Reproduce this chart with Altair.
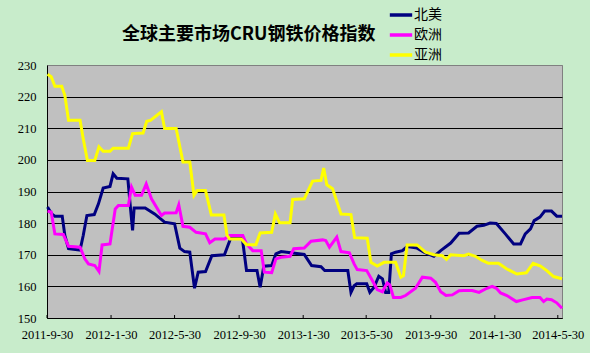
import altair as alt
import pandas as pd

START = "2011-09-30"

series_names = ["北美", "欧洲", "亚洲"]
series_colors = ["#000080", "#FF00FF", "#FFFF00"]

# days after 2011-09-30, and index values
na_days = [1, 9, 15, 29, 34, 41, 63, 69, 76, 90, 98, 107, 120, 126, 133, 154, 158, 163, 166, 187,
           205, 224, 243, 253, 262, 272, 281, 288, 302, 314, 338, 350, 372, 380, 400, 406, 413, 428,
           436, 446, 490, 504, 522, 529, 573, 579, 585, 590, 609, 615, 623, 632, 639, 645, 651, 656,
           664, 677, 686, 705, 718, 737, 750, 769, 785, 803, 819, 832, 844, 856, 873, 889, 902, 911,
           921, 928, 939, 948, 961, 971, 981]
na_vals = [185.1, 182.9, 182.2, 182.2, 176.1, 171.9, 171.5, 176.1, 182.4, 182.7, 186.1, 191.1, 191.6,
           195.6, 194.2, 194.0, 186.6, 177.7, 184.8, 184.8, 182.9, 180.3, 179.8, 172.1, 171.0, 170.8,
           159.4, 164.5, 164.7, 169.7, 170.0, 175.3, 175.3, 165.0, 165.0, 159.7, 166.4, 166.6, 170.3,
           171.0, 170.1, 166.6, 166.2, 165.0, 165.0, 158.1, 160.2, 160.8, 160.8, 158.1, 159.7, 163.2,
           162.4, 158.1, 158.1, 170.3, 170.8, 171.3, 172.6, 172.1, 170.8, 169.5, 171.3, 173.7, 176.8,
           176.9, 179.0, 179.3, 180.0, 179.9, 176.6, 173.4, 173.4, 176.6, 178.2, 180.8, 181.9, 183.8,
           183.8, 182.2, 182.2]

eu_days = [1, 8, 15, 31, 41, 63, 72, 79, 91, 99, 105, 120, 130, 136, 155, 161, 168, 180, 189, 199,
           218, 224, 246, 251, 259, 272, 284, 302, 310, 320, 338, 348, 373, 380, 392, 408, 414, 428,
           436, 446, 463, 470, 490, 503, 525, 531, 538, 552, 560, 576, 585, 591, 609, 620, 629, 639,
           648, 653, 660, 674, 683, 702, 715, 731, 740, 750, 760, 772, 785, 794, 810, 823, 838, 848,
           856, 864, 876, 894, 908, 924, 939, 946, 952, 961, 971, 981]
eu_vals = [183.8, 183.5, 176.6, 176.4, 172.7, 172.4, 168.7, 167.1, 166.6, 164.7, 173.1, 173.4, 184.5,
           185.6, 185.6, 191.4, 188.8, 188.8, 192.4, 187.7, 182.4, 183.2, 183.3, 185.8, 179.0, 178.7,
           177.1, 176.6, 173.8, 175.0, 175.0, 176.1, 176.1, 173.4, 171.3, 171.3, 164.5, 164.3, 168.7,
           169.2, 169.5, 171.9, 172.1, 174.3, 174.7, 174.5, 172.4, 175.6, 171.0, 170.6, 167.1, 165.3,
           165.0, 161.8, 159.0, 158.3, 161.1, 160.5, 156.5, 156.5, 157.1, 159.4, 162.9, 162.6, 161.3,
           158.3, 157.1, 157.3, 158.6, 158.7, 158.7, 158.1, 159.4, 160.0, 159.4, 157.9, 157.1, 155.2,
           155.8, 156.5, 156.5, 155.2, 156.0, 155.8, 154.8, 153.1]

as_days = [1, 8, 15, 28, 34, 41, 63, 69, 77, 91, 99, 107, 120, 126, 155, 163, 183, 190, 197, 218,
           224, 246, 259, 272, 280, 286, 302, 313, 337, 343, 348, 370, 380, 398, 406, 428, 435, 443,
           463, 468, 490, 506, 522, 527, 533, 544, 560, 579, 586, 610, 617, 629, 642, 664, 674, 679,
           686, 705, 721, 737, 753, 761, 769, 794, 803, 816, 829, 841, 860, 876, 895, 913, 926, 940,
           952, 965, 981]
as_vals = [227.1, 226.3, 223.3, 223.3, 220.4, 212.5, 212.5, 206.7, 199.8, 199.8, 204.1, 202.7, 202.7,
           203.7, 203.7, 208.3, 208.5, 212.2, 212.5, 215.2, 209.9, 209.9, 199.3, 199.3, 188.8, 190.3,
           190.3, 182.6, 182.6, 176.1, 175.0, 175.0, 173.2, 173.2, 176.9, 177.1, 182.9, 180.1, 180.1,
           187.5, 187.7, 193.3, 193.5, 197.4, 192.1, 190.9, 182.9, 182.7, 175.4, 175.2, 167.6, 166.4,
           167.6, 167.6, 162.9, 163.4, 173.1, 173.1, 170.8, 170.0, 169.7, 168.5, 170.0, 169.7, 170.2,
           169.5, 168.2, 167.3, 167.3, 165.5, 163.9, 164.3, 167.3, 166.4, 165.0, 163.1, 162.4]

tick_dates = [(2011, 9, 30), (2012, 1, 30), (2012, 5, 30), (2012, 9, 30), (2013, 1, 30),
              (2013, 5, 30), (2013, 9, 30), (2014, 1, 30), (2014, 5, 30)]
tick_labels = ["2011-9-30", "2012-1-30", "2012-5-30", "2012-9-30", "2013-1-30",
               "2013-5-30", "2013-9-30", "2014-1-30", "2014-5-30"]
y_ticks = [150, 160, 170, 180, 190, 200, 210, 220, 230]

start_ts = pd.Timestamp(START)


def make_df(name, days, vals):
    return pd.DataFrame({
        "series": name,
        "date": [(start_ts + pd.Timedelta(days=d)).strftime("%Y-%m-%d") for d in days],
        "value": vals,
    })


frames = [make_df(series_names[0], na_days, na_vals),
          make_df(series_names[1], eu_days, eu_vals),
          make_df(series_names[2], as_days, as_vals)]

ticks_df = pd.DataFrame({
    "date": [f"{y:04d}-{m:02d}-{d:02d}" for (y, m, d) in tick_dates],
    "label": tick_labels,
})

x_scale = alt.Scale(type="utc",
                    domain=[alt.DateTime(year=2011, month=9, date=30, utc=True),
                            alt.DateTime(year=2014, month=6, date=7, utc=True)])
y_scale = alt.Scale(domain=[150, 230], nice=False, zero=False)

x_axis = alt.Axis(
    values=[alt.DateTime(year=y, month=m, date=d, utc=True) for (y, m, d) in tick_dates],
    labelExpr="utcFormat(datum.value, '%Y-%-m-%d')",
    title=None, grid=False, ticks=False, domainColor="black", domainWidth=1,
    labelFont="Liberation Serif", labelFontSize=12.5, labelColor="black",
    labelPadding=10, labelOverlap=False, labelFlush=False,
)
y_axis = alt.Axis(
    values=y_ticks, title=None, ticks=False, domainColor="black", domainWidth=1,
    grid=True, gridColor={"condition": {"test": "datum.value == 230", "value": "#808080"}, "value": "black"},
    gridWidth=1, labelFont="Liberation Serif", labelFontSize=12.5, labelColor="black",
    labelPadding=11,
)

color_scale = alt.Scale(domain=series_names, range=series_colors)
legend = alt.Legend(
    title=None, orient="none", legendX=341, legendY=-63,
    direction="vertical", symbolType="stroke", symbolStrokeWidth=3.5,
    symbolSize=500, labelFont="Noto Sans CJK SC", labelFontSize=14,
    labelColor="black", rowPadding=-1.5, padding=0, labelOffset=0,
)

layers = []
for i, df in enumerate(frames):
    layers.append(alt.Chart(df).mark_line(strokeWidth=3, interpolate="linear").encode(
        x=alt.X("date:T", scale=x_scale, axis=x_axis),
        y=alt.Y("value:Q", scale=y_scale, axis=y_axis),
        color=alt.Color("series:N", scale=color_scale, legend=legend),
    ))

tick_layer = alt.Chart(ticks_df).mark_rule(color="black", strokeWidth=1).encode(
    x=alt.X("date:T", scale=x_scale, axis=x_axis),
    y=alt.value(253), y2=alt.value(250),
)

chart = alt.layer(*layers, tick_layer).properties(
    width=515, height=253,
    autosize=alt.AutoSizeParams(type="none"),
    padding={"left": 47, "top": 65, "right": 28, "bottom": 35},
    background="#C8ECCB",
    title=alt.TitleParams(
        text="全球主要市场CRU钢铁价格指数", font="Noto Sans CJK SC", fontSize=18,
        fontWeight="bold", color="black", anchor="start", dx=75, offset=-56,
        baseline="alphabetic", frame="group",
    ),
).configure_view(
    fill="#C0C0C0", stroke="#808080", strokeWidth=1,
)

chart.save("out.html", embed_options={"renderer": "svg", "actions": False})
